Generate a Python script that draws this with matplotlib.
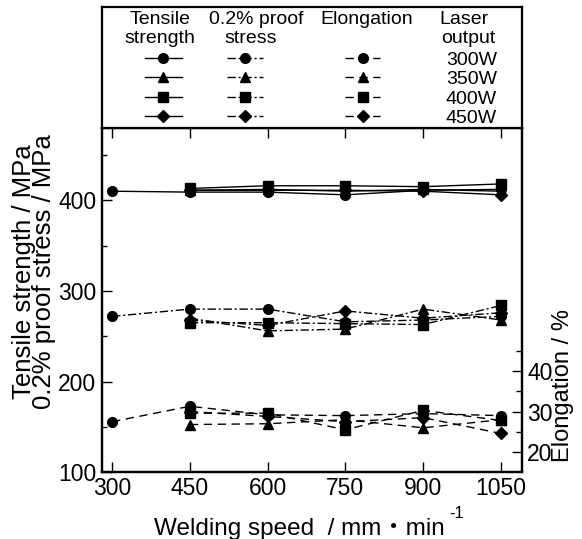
import matplotlib
matplotlib.use("Agg")
import matplotlib.pyplot as plt
from matplotlib.lines import Line2D
from matplotlib.ticker import FixedLocator

plt.rcParams['font.family'] = ['Liberation Sans', 'Noto Sans CJK JP', 'DejaVu Sans']

speeds = [300, 450, 600, 750, 900, 1050]
speeds_b = [450, 600, 750, 900, 1050]
powers = ['300W', '350W', '400W', '450W']
markers = ['o', '^', 's', 'D']

# Tensile strength (MPa)
ts_300 = [410, 409, 409, 406, 411, 412]
ts_350 = [411, 412, 410, 412, 410]
ts_400 = [413, 416, 416, 415, 418]
ts_450 = [411, 411, 411, 410, 406]

# 0.2% proof stress (MPa)
ps_300 = [272, 280, 280, 266, 268, 272]
ps_350 = [270, 256, 258, 280, 268]
ps_400 = [265, 265, 264, 263, 284]
ps_450 = [268, 262, 278, 270, 276]

# Elongation (%)
el_300 = [27.5, 31.3, 29.2, 29.0, 29.5, 29.0]
el_350 = [26.8, 27.0, 28.0, 26.0, 28.0]
el_400 = [29.6, 29.6, 25.5, 30.3, 27.8]
el_450 = [30.0, 28.8, 27.5, 28.5, 24.6]

ts = [ts_300, ts_350, ts_400, ts_450]
ps = [ps_300, ps_350, ps_400, ps_450]
el = [el_300, el_350, el_400, el_450]

W, H = 582, 539
fig = plt.figure(figsize=(W / 100, H / 100), dpi=100)

L, R, B, T = 101.7, 521.7, 472.4, 127.7
LT = 6.7
ax = fig.add_axes([L / W, (H - B) / H, (R - L) / W, (B - T) / H])
ax2 = ax.twinx()
axl = fig.add_axes([L / W, (H - T) / H, (R - L) / W, (T - LT) / H])

solid = '-'
dashdot = (0, (6, 2, 1.5, 2))
dashed = (0, (6, 4))
lw = 1.0


def msz(m):
    return 6.5 if m == 'D' else 7


for i in range(4):
    xs = speeds if i == 0 else speeds_b
    m = markers[i]
    ax.plot(xs, ts[i], linestyle=solid, color='black', lw=lw, marker=m,
            ms=msz(m), mfc='black', mec='black', zorder=3)
    ax.plot(xs, ps[i], linestyle=dashdot, color='black', lw=lw, marker=m,
            ms=msz(m), mfc='black', mec='black', zorder=3)
    ax2.plot(xs, el[i], linestyle=dashed, color='black', lw=lw, marker=m,
             ms=msz(m), mfc='black', mec='black', zorder=3)

ax.set_xlim(280, 1090)
ax.set_ylim(100, 480)
ax2.set_ylim(15, 100)

ax.set_xticks(speeds)
ax.set_xticklabels([str(s) for s in speeds])
ax.yaxis.set_major_locator(FixedLocator([100, 200, 300, 400]))
ax.yaxis.set_minor_locator(FixedLocator([150, 250, 350, 450]))
ax2.yaxis.set_major_locator(FixedLocator([20, 30, 40]))
ax2.yaxis.set_minor_locator(FixedLocator([25, 35, 45]))

fs_tick = 16.5
ax.tick_params(axis='x', which='major', direction='in', length=7.5, width=1.0,
               top=True, labelsize=fs_tick, pad=3)
ax.tick_params(axis='y', which='major', direction='in', length=7.5, width=1.0,
               labelsize=fs_tick, pad=4)
ax.tick_params(axis='y', which='minor', direction='in', length=3.8, width=1.0)
ax2.tick_params(axis='y', which='major', direction='in', length=7.5, width=1.0,
                labelsize=fs_tick, pad=4)
ax2.tick_params(axis='y', which='minor', direction='in', length=4.5, width=1.0)

for a in (ax, ax2, axl):
    for s in a.spines.values():
        s.set_linewidth(1.6)

# Legend panel (manual)
axl.set_xlim(L, R)
axl.set_ylim(T, LT)
axl.set_xticks([])
axl.set_yticks([])
fs_leg = 14
axl.text(160, 19.3, 'Tensile', ha='center', va='center', fontsize=fs_leg)
axl.text(160, 39.0, 'strength', ha='center', va='center', fontsize=fs_leg)
axl.text(256.5, 19.3, '0.2% proof', ha='center', va='center', fontsize=fs_leg)
axl.text(251, 39.0, 'stress', ha='center', va='center', fontsize=fs_leg)
axl.text(366.7, 19.3, 'Elongation', ha='center', va='center', fontsize=fs_leg)
axl.text(464, 19.3, 'Laser', ha='center', va='center', fontsize=fs_leg)
axl.text(468.7, 38.3, 'output', ha='center', va='center', fontsize=fs_leg)

row_y = [57.8, 77.0, 96.7, 116.0]
cols = [(163, 145, 181.7, solid), (245, 226.7, 263.3, dashdot), (362.5, 345, 380, dashed)]
for j, p in enumerate(powers):
    y = row_y[j]
    for cx, x0, x1, ls in cols:
        axl.add_line(Line2D([x0, x1], [y, y], color='black', lw=lw, linestyle=ls))
        axl.add_line(Line2D([cx], [y], color='black', marker=markers[j],
                            ms=msz(markers[j]), mfc='black', mec='black'))
    axl.text(497, y + 2.5, p, ha='right', va='center', fontsize=fs_leg)

# Axis labels
fig.text(34 / W, 1 - 272 / H, 'Tensile strength / MPa\n0.2% proof stress / MPa',
         rotation=90, ha='center', va='center', multialignment='center',
         linespacing=0.8, fontsize=18.5)
fig.text(563.3 / W, 1 - 386 / H, 'Elongation / %', rotation=90,
         ha='center', va='center', fontsize=17)
fig.text(299.2 / W, 1 - 535 / H, 'Welding speed  / mm\u30FBmin', ha='center',
         va='baseline', fontsize=17.5)
fig.text(449 / W, 1 - 518 / H, '-1', ha='left', va='baseline', fontsize=12)

fig.savefig('out.png', dpi=100)
